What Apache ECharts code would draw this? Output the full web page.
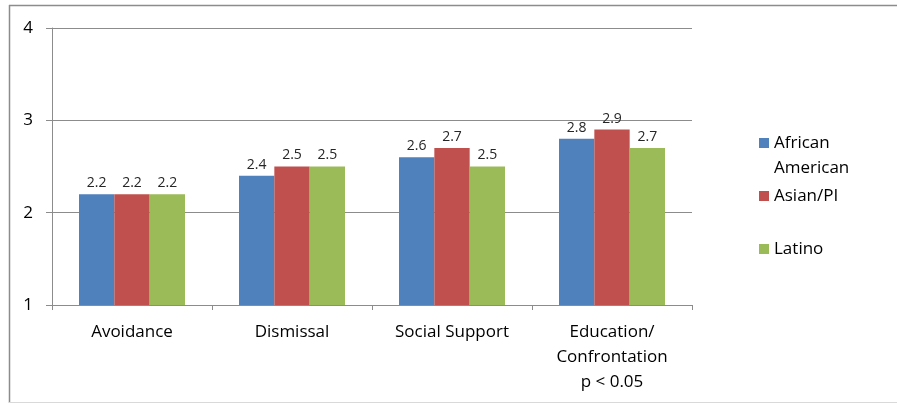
<!DOCTYPE html>
<html><head><meta charset="utf-8">
<script src="https://cdn.jsdelivr.net/npm/echarts@6/dist/echarts.min.js"></script>
<style>html,body{margin:0;padding:0;background:#fff}#c{width:897px;height:403px}</style>
</head><body><div id="c"></div>
<script>
var categories = ["Avoidance", "Dismissal", "Social Support", "Education/\nConfrontation\np < 0.05"];
var seriesNames = ["African\nAmerican", "Asian/PI", "Latino"];
var africanAmerican = [2.2, 2.4, 2.6, 2.8];
var asianPI = [2.2, 2.5, 2.7, 2.9];
var latino = [2.2, 2.5, 2.5, 2.7];
var yTicks = [1, 2, 3, 4];

var colors = ["#4F81BD", "#C0504D", "#9BBB59"];
var font = "'Open Sans', 'DejaVu Sans', sans-serif";
var chart = echarts.init(document.getElementById('c'), null, {renderer: 'canvas'});
var values = [africanAmerican, asianPI, latino];
var legendTops = [105.5, 183.5, 236.5];
var legends = seriesNames.map(function (n, i) {
  return {
    data: [n], left: 759, top: legendTops[i], orient: 'vertical',
    icon: 'rect', itemWidth: 10, itemHeight: 10, itemGap: 6, padding: 0,
    selectedMode: false,
    formatter: function (name) { return name.indexOf('\n') >= 0 ? '\n' + name : name; },
    textStyle: {fontFamily: font, fontSize: 17, color: '#000', lineHeight: 25}
  };
});
chart.setOption({
  animation: false,
  color: colors,
  grid: {left: 52, right: 205, top: 28, bottom: 98, containLabel: false},
  legend: legends,
  xAxis: {
    type: 'category', data: categories,
    axisLine: {lineStyle: {color: '#8c8c8c', width: 1}},
    axisTick: {show: true, length: 5, lineStyle: {color: '#8c8c8c'}},
    axisLabel: {fontFamily: font, fontSize: 17, color: '#000', margin: 15, lineHeight: 25, interval: 0}
  },
  yAxis: {
    type: 'value', min: yTicks[0], max: yTicks[yTicks.length - 1], interval: 1,
    axisLine: {show: true, lineStyle: {color: '#8c8c8c'}},
    axisTick: {show: true, length: 6, lineStyle: {color: '#8c8c8c'}},
    axisLabel: {fontFamily: font, fontSize: 17, color: '#000', margin: 19},
    splitLine: {lineStyle: {color: '#8c8c8c', width: 1}}
  },
  series: seriesNames.map(function (n, i) {
    return {
      name: n, type: 'bar', data: values[i], barGap: '0%', barCategoryGap: '33.75%',
      label: {show: true, position: 'top', distance: 4, fontFamily: font, fontSize: 14, color: '#262626',
        formatter: function (p) { return p.value.toFixed(1); }}
    };
  }),
  graphic: [
    {type: 'line', shape: {x1: 9, y1: 5.5, x2: 897, y2: 5.5}, style: {stroke: '#8c8c8c', lineWidth: 1.5}, silent: true},
    {type: 'line', shape: {x1: 9.5, y1: 5, x2: 9.5, y2: 403}, style: {stroke: '#8c8c8c', lineWidth: 1.5}, silent: true},
    {type: 'line', shape: {x1: 9, y1: 402.5, x2: 897, y2: 402.5}, style: {stroke: '#d9d9d9', lineWidth: 1}, silent: true}
  ]
});
</script></body></html>
